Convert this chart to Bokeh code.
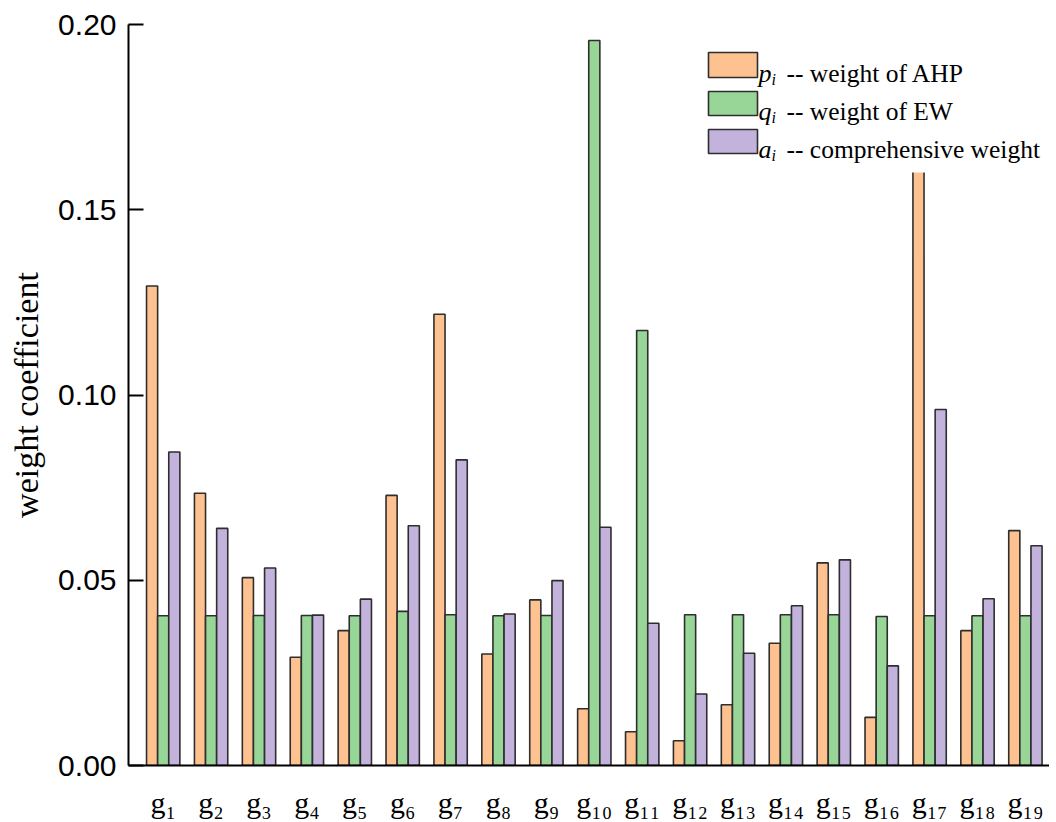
from bokeh.plotting import figure
from bokeh.models import (ColumnDataSource, Range1d, FixedTicker, NumeralTickFormatter,
                          BoxAnnotation, Label)
from bokeh.transform import dodge
from bokeh.embed import file_html
from bokeh.resources import INLINE

# ---- data ----
SUB = str.maketrans("0123456789", "₀₁₂₃₄₅₆₇₈₉")
categories = ["g" + str(i).translate(SUB) for i in range(1, 20)]
p_ahp = [0.1294, 0.0735, 0.0507, 0.0292, 0.0364, 0.0729, 0.1218, 0.0301, 0.0447, 0.0153,
         0.0091, 0.0067, 0.0164, 0.0330, 0.0547, 0.0130, 0.1668, 0.0364, 0.0634]
q_ew = [0.0404, 0.0404, 0.0405, 0.0405, 0.0404, 0.0416, 0.0407, 0.0404, 0.0405, 0.1957,
        0.1174, 0.0407, 0.0407, 0.0407, 0.0407, 0.0402, 0.0404, 0.0404, 0.0404]
a_comp = [0.0846, 0.0640, 0.0533, 0.0406, 0.0449, 0.0647, 0.0825, 0.0409, 0.0499, 0.0643,
          0.0384, 0.0193, 0.0303, 0.0431, 0.0555, 0.0269, 0.0961, 0.0450, 0.0593]
y_ticks = [0.0, 0.05, 0.10, 0.15, 0.20]
series_labels = [("p", "-- weight of AHP"), ("q", "-- weight of EW"), ("a", "-- comprehensive weight")]

C_OR = "#FEC190"
C_GR = "#98D698"
C_PU = "#C2B2DC"
EDGE = "#2E2E2E"

xs = list(range(1, len(categories) + 1))
src = ColumnDataSource(dict(x=xs, p=p_ahp, q=q_ew, a=a_comp))

PXU = 47.9          # pixels per group
FL, FT, FW, FH = 128, 24, 921, 741   # frame left/top/width/height on the page
X0 = 0.2756
X1 = X0 + FW / PXU
p = figure(width=FL + FW, height=FT + FH + 57, output_backend="svg", toolbar_location=None,
           x_range=Range1d(X0, X1), y_range=Range1d(0, 0.20),
           min_border_left=FL, min_border_right=0, min_border_top=FT, min_border_bottom=57)
p.outline_line_color = None
p.grid.grid_line_color = None
p.background_fill_color = "white"

BW = 0.232
p.vbar(x=dodge("x", -BW, range=p.x_range), top="p", width=BW, source=src,
       fill_color=C_OR, line_color=EDGE, line_width=1.6)
p.vbar(x=dodge("x", 0, range=p.x_range), top="q", width=BW, source=src,
       fill_color=C_GR, line_color=EDGE, line_width=1.6)
p.vbar(x=dodge("x", BW, range=p.x_range), top="a", width=BW, source=src,
       fill_color=C_PU, line_color=EDGE, line_width=1.6)

# axes
xa = p.xaxis[0]
xa.ticker = FixedTicker(ticks=xs)
xa.major_label_overrides = {x: c for x, c in zip(xs, categories)}
xa.major_tick_line_color = None
xa.minor_tick_line_color = None
xa.axis_line_width = 2
xa.axis_line_color = "black"
xa.major_label_text_font = "Liberation Serif"
xa.major_label_text_font_size = "30px"
xa.major_label_text_color = "black"
xa.major_label_standoff = 14

ya = p.yaxis[0]
ya.ticker = FixedTicker(ticks=y_ticks)
ya.formatter = NumeralTickFormatter(format="0.00")
ya.major_tick_in = 15
ya.major_tick_out = 0
ya.major_tick_line_width = 2
ya.major_tick_line_color = "black"
ya.minor_tick_line_color = None
ya.axis_line_width = 2
ya.axis_line_color = "black"
ya.major_label_text_font = "Liberation Sans"
ya.major_label_text_font_size = "30px"
ya.major_label_text_color = "black"
ya.major_label_standoff = 12
ya.axis_label = "weight coefficient"
ya.axis_label_text_font = "Liberation Serif"
ya.axis_label_text_font_style = "normal"
ya.axis_label_text_font_size = "34px"
ya.axis_label_text_color = "black"
ya.axis_label_standoff = 10

# ---- manual legend (pixel helpers map layout pixels to data units) ----
def dx(px):
    return X0 + (px - FL) / PXU
def dy(py):
    return 0.20 * (FT + FH - py) / FH

p.add_layout(BoxAnnotation(left=dx(700), right=dx(FL + FW), top=dy(40), bottom=dy(172),
                           fill_color="white", fill_alpha=1.0, line_color=None))
rows = [(52, 77, C_OR), (91, 115, C_GR), (129, 153, C_PU)]
for (t, b, col), (sym, txt) in zip(rows, series_labels):
    p.add_layout(BoxAnnotation(left=dx(708), right=dx(757), top=dy(t), bottom=dy(b),
                               fill_color=col, fill_alpha=1.0, line_color=EDGE,
                               line_alpha=1.0, line_width=1.6))
    base = b - 4
    p.add_layout(Label(x=dx(758), y=dy(base), text=sym, text_font="Liberation Serif",
                       text_font_style="italic", text_font_size="26px", text_color="black",
                       text_baseline="alphabetic", text_align="left"))
    p.add_layout(Label(x=dx(771), y=dy(base + 6), text="i", text_font="Liberation Serif",
                       text_font_style="italic", text_font_size="16px", text_color="black",
                       text_baseline="alphabetic", text_align="left"))
    p.add_layout(Label(x=dx(786), y=dy(base), text=txt, text_font="Liberation Serif",
                       text_font_size="25.5px", text_color="black",
                       text_baseline="alphabetic", text_align="left"))

open("out.html", "w").write(file_html(p, INLINE))
